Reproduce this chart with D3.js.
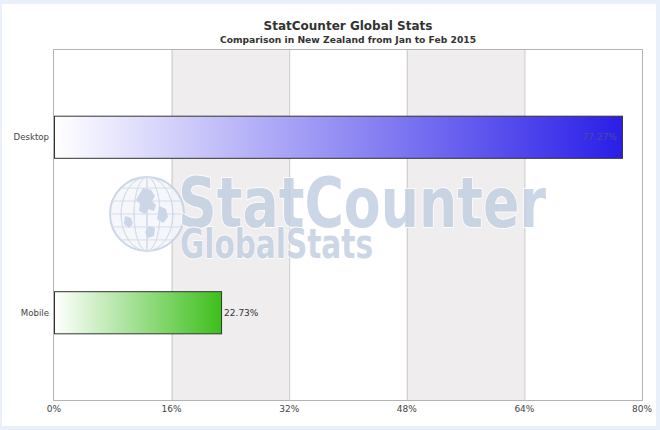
<!DOCTYPE html>
<html><head><meta charset="utf-8">
<script src="https://cdnjs.cloudflare.com/ajax/libs/d3/7.8.5/d3.min.js"></script>
<style>html,body{margin:0;padding:0;background:#e9f0fa;}svg{display:block;}</style>
</head><body>
<svg id="c" width="660" height="430"></svg>
<script>
const categories = ["Desktop", "Mobile"];
const values = [77.27, 22.73];
const valueLabels = ["77.27%", "22.73%"];
const tickValues = [0, 16, 32, 48, 64, 80];
const tickLabels = ["0%", "16%", "32%", "48%", "64%", "80%"];
const barColors = [["#ffffff", "#2a1ee8"], ["#ffffff", "#3dbf1c"]];

const svg = d3.select("#c");
svg.append("rect").attr("x", 2).attr("y", 4).attr("width", 654).attr("height", 422).attr("fill", "#fff");

const m = {l: 54, r: 642, t: 49, b: 400};
const x = d3.scaleLinear().domain([0, 80]).range([m.l, m.r]);
const y = d3.scaleBand().domain(categories).range([m.t, m.b]).paddingInner(0.76).paddingOuter(0.38);

// alternating bands
const bands = d3.pairs(tickValues).filter((d, i) => i % 2 === 1);
svg.selectAll(".band").data(bands).join("rect")
  .attr("x", d => x(d[0])).attr("y", m.t).attr("width", d => x(d[1]) - x(d[0])).attr("height", m.b - m.t)
  .attr("fill", "#efedee");

// gridlines
svg.selectAll(".grid").data(tickValues.slice(1, -1)).join("line")
  .attr("x1", d => x(d) + 0.5).attr("x2", d => x(d) + 0.5).attr("y1", m.t).attr("y2", m.b)
  .attr("stroke", "#c8c8c8").attr("stroke-width", 1);

// watermark
const wm = svg.append("g").attr("opacity", 0.85);
const gx = 147, gy = 214, gr = 37;
const globe = wm.append("g");
globe.append("circle").attr("cx", gx).attr("cy", gy).attr("r", gr).attr("fill", "#f4f6fa").attr("stroke", "#c3d0e2").attr("stroke-width", 2);
[-0.7, -0.35, 0, 0.35, 0.7].forEach(k => {
  const w = Math.cos(Math.asin(k));
  globe.append("ellipse").attr("cx", gx).attr("cy", gy).attr("rx", Math.max(0.5, gr * Math.abs(k))).attr("ry", gr)
    .attr("fill", "none").attr("stroke", "#cfd9e8").attr("stroke-width", 1);
  globe.append("line").attr("x1", gx - gr * w).attr("x2", gx + gr * w)
    .attr("y1", gy + gr * k).attr("y2", gy + gr * k).attr("stroke", "#cfd9e8");
});
globe.append("path").attr("d", `M${gx-4},${gy-26} l8,2 l4,6 l-3,5 l4,4 l-2,6 l-6,-2 l-3,5 l-6,-3 l1,-7 l-4,-4 z M${gx+12},${gy-8} l7,3 l2,8 l-5,6 l-6,-4 z M${gx-22},${gy+2} l6,2 l2,6 l-4,4 l-5,-4 z M${gx+2},${gy+12} l6,2 l-1,8 l-6,2 l-3,-6 z`)
  .attr("fill", "#c3d0e2");
const wt = wm.append("text")
  .attr("font-family", "DejaVu Sans, sans-serif").attr("font-weight", "bold")
  .attr("fill", "#c3d0e2").attr("stroke", "#ffffff").attr("stroke-width", 2).attr("paint-order", "stroke");
wt.append("tspan").attr("x", 178).attr("y", 227).attr("font-size", 70)
  .attr("textLength", 368).attr("lengthAdjust", "spacingAndGlyphs").text("StatCounter");
wt.append("tspan").attr("x", 180).attr("y", 258).attr("font-size", 40)
  .attr("textLength", 193).attr("lengthAdjust", "spacingAndGlyphs").text("GlobalStats");

// plot border
svg.append("rect").attr("x", m.l - 0.5).attr("y", m.t + 0.5).attr("width", m.r - m.l + 1).attr("height", m.b - m.t)
  .attr("fill", "none").attr("stroke", "#b4b4b4").attr("stroke-width", 1);

// gradients
const defs = svg.append("defs");
barColors.forEach((c, i) => {
  const g = defs.append("linearGradient").attr("id", "g" + i).attr("x1", 0).attr("x2", 1).attr("y1", 0).attr("y2", 0);
  g.append("stop").attr("offset", 0).attr("stop-color", c[0]);
  g.append("stop").attr("offset", 1).attr("stop-color", c[1]);
});

// bars
svg.selectAll(".bar").data(categories).join("rect")
  .attr("x", x(0) + 0.5).attr("y", d => y(d) + 0.5)
  .attr("width", (d, i) => x(values[i]) - x(0)).attr("height", y.bandwidth())
  .attr("fill", (d, i) => `url(#g${i})`).attr("stroke", "#333").attr("stroke-width", 1);

// value labels
svg.selectAll(".vl").data(categories).join("text")
  .attr("x", (d, i) => i === 0 ? x(values[i]) - 5 : x(values[i]) + 3)
  .attr("y", d => y(d) + y.bandwidth() / 2 + 3.5)
  .attr("text-anchor", (d, i) => i === 0 ? "end" : "start")
  .attr("font-family", "DejaVu Sans, sans-serif").attr("font-size", 9)
  .attr("fill", (d, i) => i === 0 ? "#4a4aa0" : "#333")
  .text((d, i) => valueLabels[i]);

// category labels
svg.selectAll(".cl").data(categories).join("text")
  .attr("x", m.l - 5).attr("y", d => y(d) + y.bandwidth() / 2 + 3.5)
  .attr("text-anchor", "end").attr("font-family", "DejaVu Sans, sans-serif").attr("font-size", 8.6).attr("fill", "#444")
  .text(d => d);

// x axis labels
svg.selectAll(".xl").data(tickValues).join("text")
  .attr("x", d => x(d)).attr("y", 412)
  .attr("text-anchor", "middle").attr("font-family", "DejaVu Sans, sans-serif").attr("font-size", 9).attr("fill", "#444")
  .text((d, i) => tickLabels[i]);

// titles
const cx = (m.l + m.r) / 2;
svg.append("text").attr("x", cx).attr("y", 30).attr("text-anchor", "middle")
  .attr("font-family", "DejaVu Sans, sans-serif").attr("font-weight", "bold").attr("font-size", 12).attr("fill", "#333")
  .text("StatCounter Global Stats");
svg.append("text").attr("x", cx).attr("y", 43).attr("text-anchor", "middle")
  .attr("font-family", "DejaVu Sans, sans-serif").attr("font-weight", "bold").attr("font-size", 9.2).attr("fill", "#333")
  .text("Comparison in New Zealand from Jan to Feb 2015");
</script>
</body></html>
